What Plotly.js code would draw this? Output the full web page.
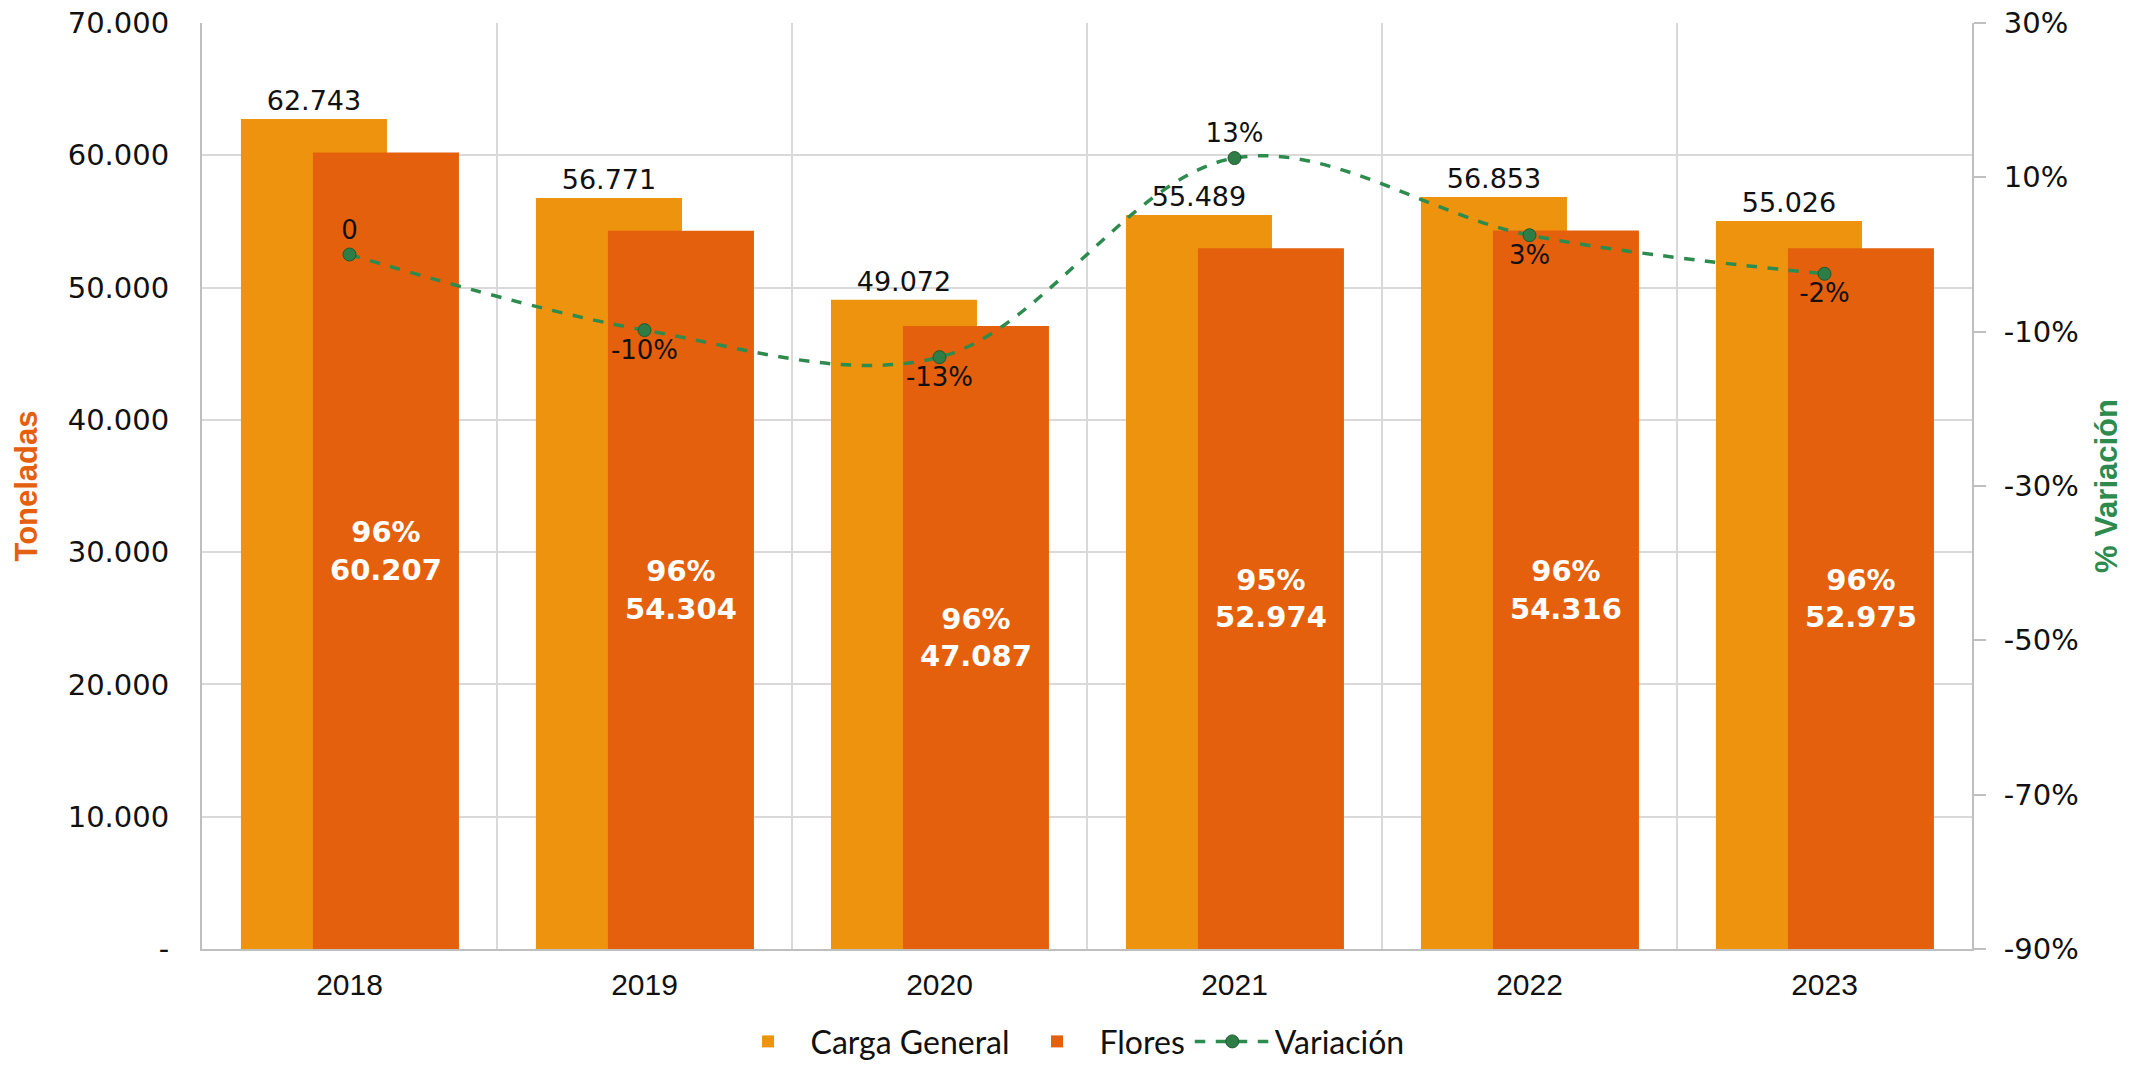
<!DOCTYPE html>
<html>
<head>
<meta charset="utf-8">
<script src="https://cdn.plot.ly/plotly-3.0.1.min.js"></script>
<style>
  html, body { margin: 0; padding: 0; background: #ffffff; }
  #chart { width: 2149px; height: 1069px; }
</style>
</head>
<body>
<div id="chart"></div>
<script>
// ---- Data ----
const years = ["2018", "2019", "2020", "2021", "2022", "2023"];
const cargaGeneral = [62743, 56771, 49072, 55489, 56853, 55026];
const flores = [60207, 54304, 47087, 52974, 54316, 52975];
const floresShare = [96, 96, 96, 95, 96, 96];
const variacion = [0, -0.098, -0.133, 0.125, 0.025, -0.025];
const variacionLabels = ["0", "-10%", "-13%", "13%", "3%", "-2%"];
const variacionLabelPos = ["top center", "bottom center", "bottom center", "top center", "bottom center", "bottom center"];
const leftTickVals = [0, 10000, 20000, 30000, 40000, 50000, 60000, 70000];
const leftTickText = ["-", "10.000", "20.000", "30.000", "40.000", "50.000", "60.000", "70.000"];
const rightTickVals = [-0.9, -0.7, -0.5, -0.3, -0.1, 0.1, 0.3];
const rightTickText = ["-90%", "-70%", "-50%", "-30%", "-10%", "10%", "30%"];

// ---- Styles ----
const cOrange = "#EE930E";
const cRed = "#E5600D";
const cGreen = "#2E8B4E";
const gridCol = "#D9D9D9";
const axisCol = "#BFBFBF";
const numFont = "DejaVu Sans, sans-serif";

const traces = [
  {
    type: "bar",
    name: "Carga General",
    x: years,
    y: cargaGeneral,
    width: 0.495,
    offset: -0.368,
    marker: { color: cOrange },
    texttemplate: "%{y:,.0f}",
    textposition: "outside",
    textfont: { family: numFont, size: 27, color: "#111111" },
    cliponaxis: false,
    hoverinfo: "x+y"
  },
  {
    type: "bar",
    name: "Flores",
    x: years,
    y: flores,
    customdata: floresShare,
    width: 0.495,
    offset: -0.124,
    marker: { color: cRed },
    texttemplate: "%{customdata}%<br>%{y:,.0f}",
    textposition: "inside",
    insidetextanchor: "middle",
    constraintext: "none",
    textangle: 0,
    textfont: { family: numFont, size: 29, color: "#ffffff", weight: "bold" },
    hoverinfo: "x+y"
  },
  {
    type: "scatter",
    mode: "lines+markers+text",
    name: "Variación",
    x: years,
    y: variacion,
    yaxis: "y2",
    text: variacionLabels,
    textposition: variacionLabelPos,
    textfont: { family: numFont, size: 26, color: "#111111" },
    line: { color: cGreen, width: 3.5, dash: "dash", shape: "spline", smoothing: 1 },
    marker: { color: "#2E7D46", size: 13, line: { color: "#1F5A30", width: 1 } },
    cliponaxis: false
  }
];

const layout = {
  width: 2149,
  height: 1069,
  margin: { l: 202, r: 177, t: 23, b: 120, autoexpand: false },
  paper_bgcolor: "#ffffff",
  plot_bgcolor: "#ffffff",
  separators: ",.",
  barmode: "overlay",
  showlegend: true,
  font: { family: numFont, color: "#111111" },
  xaxis: {
    type: "category",
    tickson: "boundaries",
    automargin: false,
    showgrid: true,
    gridcolor: gridCol,
    gridwidth: 2,
    showline: true,
    linecolor: axisCol,
    linewidth: 2,
    ticks: "",
    ticklabelstandoff: 8,
    tickfont: { family: "Liberation Sans, Arial, sans-serif", size: 30, color: "#111111" },
    fixedrange: true
  },
  yaxis: {
    range: [0, 70000],
    automargin: false,
    tickvals: leftTickVals,
    ticktext: leftTickText,
    showgrid: true,
    gridcolor: gridCol,
    gridwidth: 2,
    zeroline: false,
    showline: true,
    linecolor: axisCol,
    linewidth: 2,
    ticks: "",
    ticklabelstandoff: 25,
    tickfont: { family: numFont, size: 29, color: "#111111" },
    title: {
      text: "Toneladas",
      font: { family: "Liberation Sans, Arial, sans-serif", size: 31, color: cRed, weight: "bold" },
      standoff: 21
    }
  },
  yaxis2: {
    overlaying: "y",
    side: "right",
    automargin: false,
    range: [-0.9, 0.3],
    tickvals: rightTickVals,
    ticktext: rightTickText,
    showgrid: false,
    zeroline: false,
    showline: true,
    linecolor: axisCol,
    linewidth: 2,
    ticks: "outside",
    ticklen: 12,
    tickwidth: 2,
    tickcolor: axisCol,
    ticklabelstandoff: 12,
    tickfont: { family: numFont, size: 29, color: "#111111" },
    title: {
      text: "% Variación",
      font: { family: "Liberation Sans, Arial, sans-serif", size: 31, color: cGreen, weight: "bold" },
      standoff: 18
    }
  },
  legend: {
    orientation: "h",
    x: 0.489,
    xanchor: "center",
    y: -0.1,
    yanchor: "middle",
    font: { family: "Lato, sans-serif", size: 32, color: "#111111" },
    itemwidth: 75,
    traceorder: "normal",
    bgcolor: "rgba(0,0,0,0)"
  }
};

Plotly.newPlot("chart", traces, layout, { displayModeBar: false, responsive: false });
</script>
</body>
</html>
